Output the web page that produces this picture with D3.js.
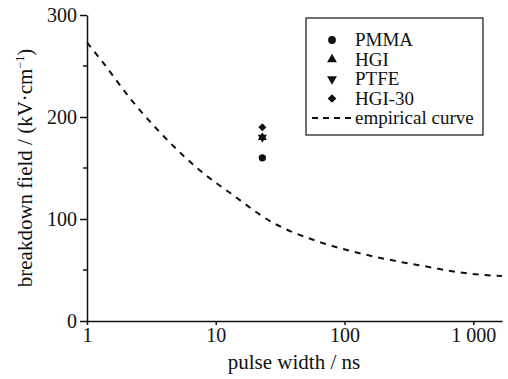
<!DOCTYPE html>
<html lang="en">
<head>
<meta charset="UTF-8">
<title>breakdown field vs pulse width</title>
<script src="https://cdn.jsdelivr.net/npm/d3@7"></script>
<style>
  body { margin: 0; background: #fff; }
  svg, svg text { font-family: "Liberation Serif", "Times New Roman", serif; }
</style>
</head>
<body>
<div id="chart"></div>
<script>
// ---- data ----
const materials = ["PMMA", "HGI", "PTFE", "HGI-30"];
const pulseWidth = [23, 23, 23, 23];          // ns
const breakdownField = [160, 180, 180, 190];  // kV/cm

// empirical curve
const curveT = [1, 1.32, 2.2, 3.56, 7.8, 13.1, 27.2, 58.9, 126, 270, 450, 745, 1230, 1670];
const curveE = [273, 254, 217, 187, 146, 125, 97, 79, 67, 58, 53, 48, 45, 44];

const xTicks = [1, 10, 100, 1000];
const xTickLabels = ["1", "10", "100", "1 000"];
const yTicks = [0, 100, 200, 300];
const yMinorTicks = [50, 150, 250];

// ---- setup ----
const width = 508, height = 379;
const svg = d3.select("#chart").append("svg")
    .attr("width", width)
    .attr("height", height);

const x = d3.scaleLog().domain([1, 1670]).range([87, 502]);
const y = d3.scaleLinear().domain([0, 300]).range([321, 15]);

const ink = "#111";
const serif = "Liberation Serif, Times New Roman, serif";

// y axis
const yAxis = svg.append("g")
    .attr("transform", `translate(${x(1)},0)`)
    .call(d3.axisLeft(y).tickValues(yTicks).tickSize(7).tickPadding(3).tickSizeOuter(0))
    .attr("font-family", serif);
yAxis.select(".domain").attr("stroke", ink).attr("stroke-width", 1.5);
yAxis.selectAll(".tick line").attr("stroke", ink).attr("stroke-width", 1.5);
yAxis.selectAll(".tick text").attr("font-size", 20).attr("fill", ink);

svg.append("g").selectAll("line")
    .data(yMinorTicks)
    .join("line")
    .attr("x1", x(1) - 4).attr("x2", x(1))
    .attr("y1", d => y(d)).attr("y2", d => y(d))
    .attr("stroke", ink).attr("stroke-width", 1.5);

// x axis
const xAxis = svg.append("g")
    .attr("transform", `translate(0,${y(0)})`)
    .call(d3.axisBottom(x).tickValues(xTicks).tickFormat((d, i) => xTickLabels[i])
        .tickSize(4).tickPadding(3).tickSizeOuter(0))
    .attr("font-family", serif);
xAxis.select(".domain").attr("stroke", ink).attr("stroke-width", 1.5);
xAxis.selectAll(".tick line").attr("stroke", ink).attr("stroke-width", 1.5);
xAxis.selectAll(".tick text").attr("font-size", 20).attr("fill", ink);

// axis titles
svg.append("text")
    .attr("x", 294).attr("y", 369)
    .attr("text-anchor", "middle")
    .attr("font-size", 21).attr("fill", ink)
    .text("pulse width / ns");

const yTitle = svg.append("text")
    .attr("transform", `translate(32,168) rotate(-90)`)
    .attr("text-anchor", "middle")
    .attr("font-size", 21).attr("fill", ink);
yTitle.append("tspan").text("breakdown field / (kV·cm");
yTitle.append("tspan").attr("font-size", 12).attr("dy", -8).text("−1");
yTitle.append("tspan").attr("dy", 8).text(")");

// empirical curve
const curveData = curveT.map((t, i) => ({ t: t, e: curveE[i] }));
const line = d3.line()
    .x(d => x(d.t))
    .y(d => y(d.e))
    .curve(d3.curveMonotoneX);

svg.append("path")
    .datum(curveData)
    .attr("fill", "none")
    .attr("stroke", ink)
    .attr("stroke-width", 2)
    .attr("stroke-dasharray", "6,6")
    .attr("d", line);

// markers
const symbols = [d3.symbolCircle, d3.symbolTriangle, d3.symbolTriangle, d3.symbolSquare];
const rotations = [0, 0, 180, 45];
const sizes = [42, 36, 36, 32];

materials.forEach((m, i) => {
    svg.append("path")
        .attr("d", d3.symbol().type(symbols[i]).size(sizes[i])())
        .attr("transform", `translate(${x(pulseWidth[i])},${y(breakdownField[i])}) rotate(${rotations[i]})`)
        .attr("fill", ink);
});

// legend
const lg = svg.append("g").attr("transform", "translate(306,18)");
lg.append("rect")
    .attr("width", 177).attr("height", 117)
    .attr("fill", "#fff").attr("stroke", ink).attr("stroke-width", 1.2);

materials.forEach((m, i) => {
    const cy = 22 + i * 19.5;
    lg.append("path")
        .attr("d", d3.symbol().type(symbols[i]).size(sizes[i] + 6)())
        .attr("transform", `translate(26,${cy}) rotate(${rotations[i]})`)
        .attr("fill", ink);
    lg.append("text")
        .attr("x", 49).attr("y", cy + 6)
        .attr("font-size", 19).attr("fill", ink)
        .text(m);
});
lg.append("line")
    .attr("x1", 6).attr("x2", 45)
    .attr("y1", 100).attr("y2", 100)
    .attr("stroke", ink).attr("stroke-width", 2)
    .attr("stroke-dasharray", "6,5");
lg.append("text")
    .attr("x", 49).attr("y", 106)
    .attr("font-size", 19).attr("fill", ink)
    .text("empirical curve");
</script>
</body>
</html>
